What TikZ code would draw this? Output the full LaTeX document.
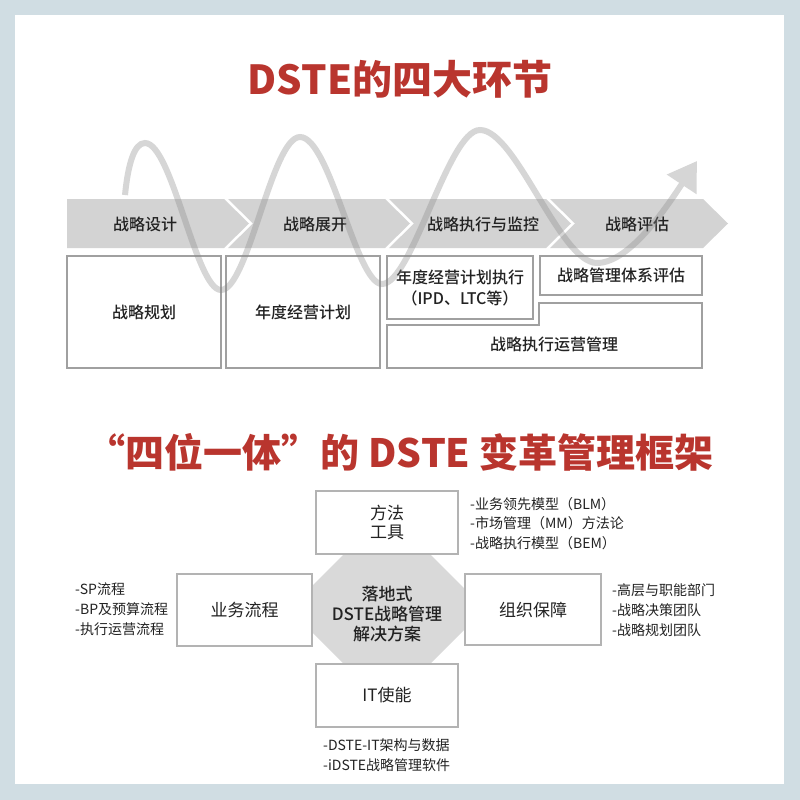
\documentclass[tikz,border=0pt]{standalone}
\usepackage{fontspec}
\setmainfont{Noto Sans CJK SC}
\newfontfamily\medfont{Noto Sans CJK SC}[UprightFont=* Medium]
\usepackage{tikz}
\usetikzlibrary{arrows.meta,positioning}
\usepackage{xcolor}
\definecolor{fframe}{HTML}{D0DDE3}
\definecolor{fred}{HTML}{B9352E}
\definecolor{fchev}{HTML}{D3D3D3}
\definecolor{foct}{HTML}{D9D9D9}
\definecolor{fline}{HTML}{A0A0A0}
\definecolor{ftext}{HTML}{222222}
\definecolor{fwave}{HTML}{8A8A8A}

\tikzset{
  headline/.style={font=\fontsize{40}{44}\selectfont\bfseries, text=fred, inner sep=0pt},
  phase/.style={font=\medfont\fontsize{16}{19}\selectfont, text=ftext, inner sep=0pt},
  stagebox/.style={draw=fline, line width=1.5pt, inner sep=0pt, text=ftext, align=center,
                   font=\medfont\fontsize{16}{21}\selectfont},
  pillar/.style={draw=fline!80, line width=1.2pt, fill=white, inner sep=0pt, text=ftext,
                 align=center, font=\fontsize{17}{19}\selectfont},
  item/.style={anchor=west, inner sep=0pt, text=ftext, font=\fontsize{14}{16}\selectfont},
}

\begin{document}
\begin{tikzpicture}[x=1pt, y=-1pt]
% frame
\fill[fframe] (0,0) rectangle (800,800);
\fill[white] (15,15) rectangle (784,784);
\useasboundingbox (0,0) rectangle (800,800);
% =================== top: the four stages ===================
\node[headline] (head1) at (400,79) {DSTE的四大环节};
\foreach \xa/\xb/\nd/\lx/\lb [count=\i] in {67/224/0/145/{战略设计}, 228/385/25/315/{战略展开},
                                            389/546/25/483/{战略执行与监控}, 550/703/25/637/{战略评估}}{
  \fill[fchev] (\xa,199) -- (\xb,199) -- ({\xb+25},223.5) -- (\xb,248) -- (\xa,248)
               -- ({\xa+\nd},223.5) -- cycle;
  \node[phase] (ph\i) at (\lx,224) {\lb};
}
\node[stagebox, minimum width=154pt, minimum height=112pt] (plan) at (144,312) {战略规划};
\node[stagebox, minimum width=154pt, minimum height=112pt] (annual) at (303,312) {年度经营计划};
\node[stagebox, minimum width=146pt, minimum height=63pt] (exec) at (460,287.5)
   {年度经营计划执行\\（IPD、LTC等）};
\node[stagebox, minimum width=162pt, minimum height=39pt] (review) at (621,275.5) {战略管理体系评估};
% stepped box under the last two stages
\draw[draw=fline, line width=1.5pt] (387,325) -- (539,325) -- (539,303) -- (702,303)
   -- (702,368) -- (387,368) -- cycle;
\node[phase] (ops) at (554,344) {战略执行运营管理};
% wave
\begin{scope}[transparency group, opacity=0.35]
\draw[fwave, line width=6pt, -{Triangle[length=28pt, width=34pt]}]
  (125,195) .. controls (128,165) and (134,143) .. (145,143)
  .. controls (172,143) and (196,290) .. (221,290)
  .. controls (248,290) and (272,137) .. (300,137)
  .. controls (330,137) and (356,284) .. (382,284)
  .. controls (412,284) and (448,130) .. (480,130)
  .. controls (516,130) and (560,263) .. (597,263)
  .. controls (630,263) and (668,205) .. (697,161);
\end{scope}
% =================== bottom: four-in-one framework ===================
\node[headline, font=\fontsize{39}{42}\selectfont\bfseries] (head2) at (400,452)
   {“四位一体”的 DSTE 变革管理框架};
\fill[foct] (343,555) -- (431,555) -- (464,588) -- (464,630) -- (431,663) -- (343,663)
   -- (310,630) -- (310,588) -- cycle;
\node[text=ftext, align=center, inner sep=0pt, font=\medfont\fontsize{17}{20}\selectfont] (core) at (387,614)
   {落地式\\DSTE战略管理\\解决方案};
\node[pillar, minimum width=142pt, minimum height=63pt] (tools) at (387,522.5) {方法\\工具};
\node[pillar, minimum width=135pt, minimum height=72pt] (proc) at (244.5,610) {业务流程};
\node[pillar, minimum width=136pt, minimum height=71pt] (org) at (533,609.5) {组织保障};
\node[pillar, minimum width=142pt, minimum height=63pt] (itn) at (387,695.5) {IT使能};
% lists
\foreach \t [count=\i] in {{-业务领先模型（BLM）}, {-市场管理（MM）方法论}, {-战略执行模型（BEM）}}
  \node[item] (tl\i) at (470,{484.5+19.5*\i}) {\t};
\foreach \t [count=\i] in {{-SP流程}, {-BP及预算流程}, {-执行运营流程}}
  \node[item] (pl\i) at (75,{569+20*\i}) {\t};
\foreach \t [count=\i] in {{-高层与职能部门}, {-战略决策团队}, {-战略规划团队}}
  \node[item] (ol\i) at (612,{570+20*\i}) {\t};
\foreach \t [count=\i] in {{-DSTE-IT架构与数据}, {-iDSTE战略管理软件}}
  \node[item] (il\i) at (323,{725+20*\i}) {\t};
\end{tikzpicture}
\end{document}
